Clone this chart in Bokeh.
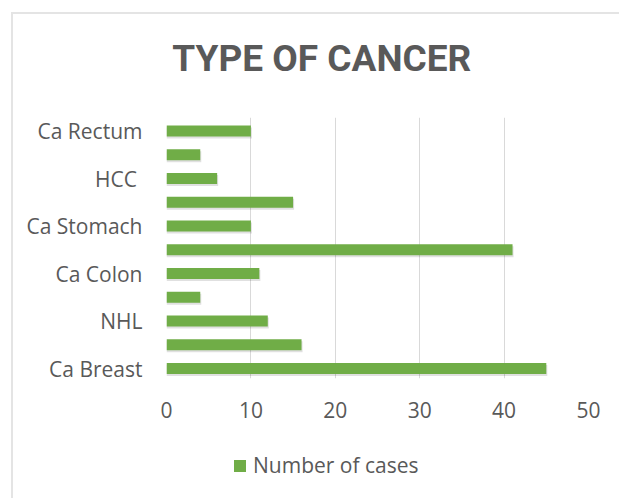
from bokeh.plotting import figure
from bokeh.layouts import column
from bokeh.models import FixedTicker, Legend, LegendItem, ColumnDataSource, Label
from bokeh.transform import dodge
from bokeh.embed import file_html
from bokeh.resources import INLINE

# Data (bottom to top, as drawn)
categories = ["Ca Breast", "", "NHL", "", "Ca Colon", "", "Ca Stomach", "", "HCC ", "", "Ca Rectum"]
cases = [45, 16, 12, 4, 11, 41, 10, 15, 6, 4, 10]
x_ticks = [0, 10, 20, 30, 40, 50]
title_text = "TYPE OF CANCER"
series_name = "Number of cases"

positions = list(range(len(cases)))
src = ColumnDataSource(dict(y=positions, v=cases, name=categories))

GREEN = "#70AD47"
GRAY_TXT = "#595959"

# title strip
p0 = figure(width=606, height=88, output_backend="svg", toolbar_location=None,
            min_border=0, x_range=(0, 50), y_range=(0, 1))
p0.axis.visible = False
p0.grid.visible = False
p0.outline_line_color = None
p0.border_fill_color = "white"
p0.background_fill_color = "white"
p0.add_layout(Label(x=18.4, y=0.5, text=title_text, text_font="Roboto",
                    text_font_style="bold", text_font_size="37px", text_color=GRAY_TXT,
                    text_align="center", text_baseline="middle"))

p = figure(width=606, height=328, x_range=p0.x_range, y_range=(-0.42, 10.57),
           output_backend="svg", toolbar_location=None,
           min_border_left=153, min_border_right=31, min_border_top=15, min_border_bottom=52)
p.outline_line_color = None
p.background_fill_color = "white"
p.border_fill_color = "white"

# shadows
p.hbar(y=dodge("y", -0.08), left=0, right=dodge("v", 0.12), height=0.46, source=src,
       fill_color="#000000", fill_alpha=0.12, line_color=None)
bars = p.hbar(y="y", left=0, right="v", height=0.46, source=src,
              fill_color=GREEN, line_color=None)

# axes
p.xaxis.ticker = FixedTicker(ticks=x_ticks)
p.xaxis.axis_line_color = None
p.xaxis.major_tick_line_color = None
p.xaxis.minor_tick_line_color = None
p.xaxis.major_label_text_font = "Open Sans"
p.xaxis.major_label_text_font_size = "21px"
p.xaxis.major_label_text_color = GRAY_TXT
p.xaxis.major_label_standoff = 17

p.yaxis.ticker = FixedTicker(ticks=positions)
p.yaxis.major_label_overrides = {float(i): lab for i, lab in enumerate(categories)}
p.yaxis.axis_line_color = None
p.yaxis.major_tick_line_color = None
p.yaxis.minor_tick_line_color = None
p.yaxis.major_label_text_font = "Open Sans"
p.yaxis.major_label_text_font_size = "21px"
p.yaxis.major_label_text_color = GRAY_TXT
p.yaxis.major_label_standoff = 18

p.xgrid.grid_line_color = "#d9d9d9"
p.xgrid.grid_line_width = 1
p.ygrid.grid_line_color = None

# legend strip (its key glyph uses the same bars, kept outside this strip's view)
p2 = figure(width=606, height=68, output_backend="svg", toolbar_location=None,
            min_border=0, x_range=(100, 101), y_range=(100, 101))
p2.axis.visible = False
p2.grid.visible = False
p2.outline_line_color = None
p2.border_fill_color = "white"
p2.background_fill_color = "white"
key = p2.hbar(y="y", left=0, right="v", height=0.46, source=src,
              fill_color=GREEN, line_color=None)
legend = Legend(items=[LegendItem(label=series_name, renderers=[key])],
                location=(66, 19), orientation="horizontal",
                glyph_width=15, glyph_height=15, label_standoff=6,
                padding=0, margin=0, border_line_color=None, background_fill_alpha=0,
                label_text_font="Open Sans", label_text_font_size="21px",
                label_text_color=GRAY_TXT)
p2.add_layout(legend, "center")

layout = column(p0, p, p2, spacing=0)
layout.styles = {"margin-left": "11px", "margin-top": "12px",
                 "border-left": "2px solid #e4e4e4", "border-top": "2px solid #e4e4e4"}

open("out.html", "w").write(file_html(layout, INLINE))
